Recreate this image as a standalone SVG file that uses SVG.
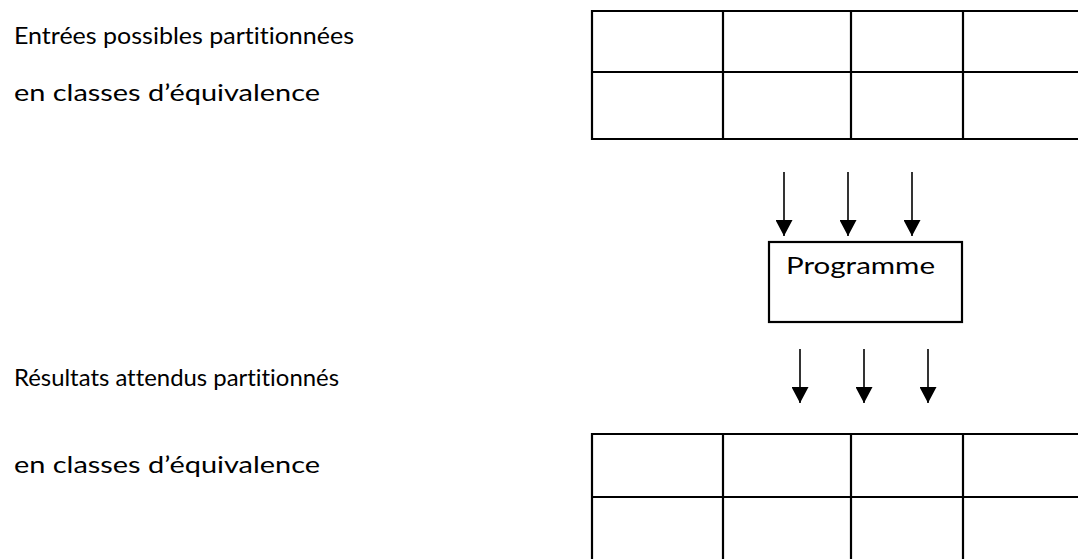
<svg xmlns="http://www.w3.org/2000/svg" width="1078" height="559" viewBox="0 0 1078 559">
<style>
.t{font-family:Lato,"Open Sans","Liberation Sans",sans-serif;font-size:23px;fill:#000;font-variant-ligatures:none;font-feature-settings:"liga" 0,"dlig" 0}
.g{fill:none;stroke:#000;stroke-width:2.2}
.c{stroke:#000;stroke-width:1.6;fill:none;marker-end:url(#ah)}
</style>
<defs>
<marker id="ah" markerUnits="userSpaceOnUse" markerWidth="16" markerHeight="17" refX="16" refY="8.5" orient="auto">
<path d="M0,0 L16,8.5 L0,17 Z" fill="#000"/>
</marker>
</defs>
<rect width="1078" height="559" fill="#fff"/>
<g id="labels">
<text class="t" x="14" y="44" textLength="340" lengthAdjust="spacingAndGlyphs">Entrées possibles partitionnées</text>
<text class="t" x="14" y="101" textLength="306" lengthAdjust="spacingAndGlyphs">en classes d’équivalence</text>
<text class="t" x="14" y="386" textLength="325" lengthAdjust="spacingAndGlyphs">Résultats attendus partitionnés</text>
<text class="t" x="14" y="473" textLength="306" lengthAdjust="spacingAndGlyphs">en classes d’équivalence</text>
</g>
<g id="table-inputs">
<path class="g" d="M1080,11 H592 V139 H1080 M592,72 H1080 M723,11 V139 M851,11 V139 M963,11 V139"/>
</g>
<g id="programme">
<rect class="g" x="769" y="242" width="193" height="80"/>
<text class="t" x="786" y="274" font-size="25" textLength="149" lengthAdjust="spacingAndGlyphs">Programme</text>
</g>
<g id="table-outputs">
<path class="g" d="M1080,434 H592 V561 M592,497 H1080 M723,434 V561 M851,434 V561 M963,434 V561"/>
</g>
<g id="connectors">
<line class="c" x1="784" y1="172" x2="784" y2="236"/>
<line class="c" x1="848" y1="172" x2="848" y2="236"/>
<line class="c" x1="912" y1="172" x2="912" y2="236"/>
<line class="c" x1="800" y1="349" x2="800" y2="403"/>
<line class="c" x1="864" y1="349" x2="864" y2="403"/>
<line class="c" x1="928" y1="349" x2="928" y2="403"/>
</g>
</svg>
